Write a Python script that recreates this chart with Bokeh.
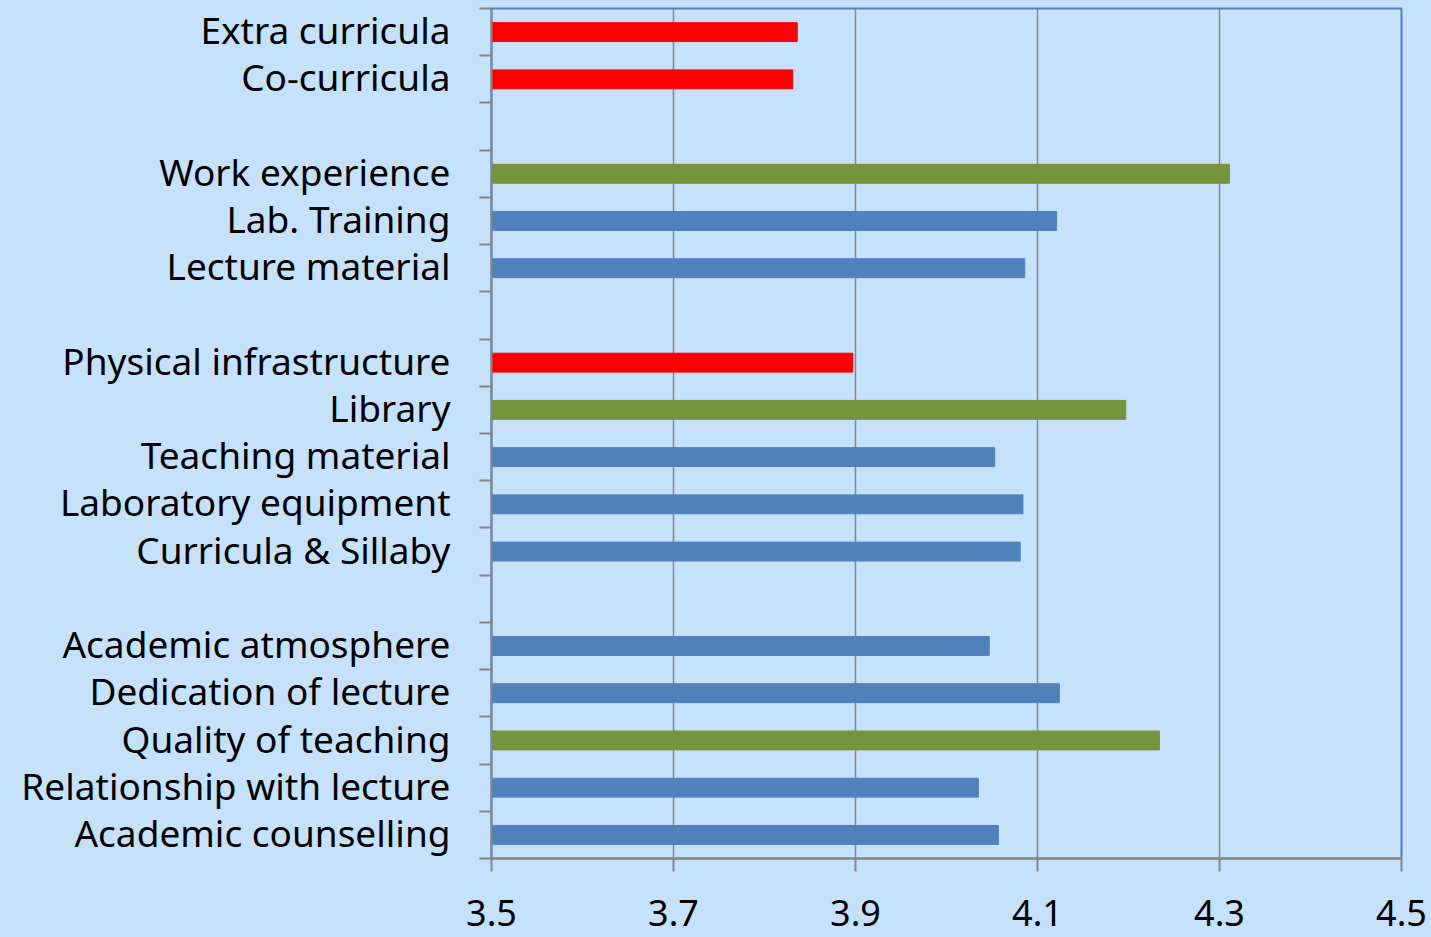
from bokeh.plotting import figure
from bokeh.models import FixedTicker, ColumnDataSource
from bokeh.embed import file_html
from bokeh.resources import INLINE

# Categories from top to bottom; "" marks an empty gap row
categories = [
    "Extra curricula", "Co-curricula", "",
    "Work experience", "Lab. Training", "Lecture material", "",
    "Physical infrastructure", "Library", "Teaching material",
    "Laboratory equipment", "Curricula & Sillaby", "",
    "Academic atmosphere", "Dedication of lecture", "Quality of teaching",
    "Relationship with lecture", "Academic counselling",
]
values = [
    3.836, 3.831, None,
    4.311, 4.121, 4.086, None,
    3.897, 4.197, 4.053, 4.084, 4.081, None,
    4.047, 4.124, 4.234, 4.035, 4.057,
]
bar_colors = [
    "red", "red", None,
    "green", "blue", "blue", None,
    "red", "green", "blue", "blue", "blue", None,
    "blue", "blue", "green", "blue", "blue",
]
x_ticks = [3.5, 3.7, 3.9, 4.1, 4.3, 4.5]

palette = {"red": "#FF0000", "green": "#77933C", "blue": "#4F81BD"}
BG = "#C6E1FC"
LABEL_NUDGE = 0.05  # small upward nudge of label anchors for font metrics

n = len(categories)
ys, xs, cs = [], [], []
label_overrides = {}
for i, (cat, v, c) in enumerate(zip(categories, values, bar_colors)):
    yc = n - i - 0.5
    if cat:
        label_overrides[round(yc + LABEL_NUDGE, 3)] = cat
    if v is not None:
        ys.append(yc)
        xs.append(v)
        cs.append(palette[c])

src = ColumnDataSource(dict(y=ys, right=xs, color=cs))

p = figure(width=1431, height=937, x_range=(3.5, 4.5), y_range=(0, n),
           output_backend="svg", toolbar_location=None,
           min_border_left=491, min_border_right=30, min_border_top=8, min_border_bottom=79)

p.background_fill_color = BG
p.border_fill_color = BG
p.outline_line_color = "#4F81BD"
p.outline_line_width = 2

p.hbar(y="y", left=3.5, right="right", height=0.4, color="color", source=src)

# x axis
p.xaxis.ticker = FixedTicker(ticks=x_ticks)
p.xaxis.major_label_overrides = {t: f"{t:.1f}" for t in x_ticks}
p.xaxis.axis_line_color = "#868686"
p.xaxis.axis_line_width = 2
p.xaxis.major_tick_line_color = "#868686"
p.xaxis.major_tick_line_width = 2
p.xaxis.major_tick_out = 13
p.xaxis.major_tick_in = 0
p.xaxis.minor_tick_line_color = None
p.xaxis.major_label_text_font = "Noto Sans"
p.xaxis.major_label_text_font_size = "36px"
p.xaxis.major_label_text_color = "black"
p.xaxis.major_label_standoff = 28

# y axis: labels at centers, tick marks at boundaries
centers = sorted(label_overrides.keys())
p.yaxis.ticker = FixedTicker(ticks=centers, minor_ticks=list(range(0, n + 1)))
p.yaxis.major_label_overrides = label_overrides
p.yaxis.axis_line_color = "#868686"
p.yaxis.axis_line_width = 2
p.yaxis.major_tick_line_color = None
p.yaxis.major_tick_out = 0
p.yaxis.major_tick_in = 0
p.yaxis.minor_tick_line_color = "#868686"
p.yaxis.minor_tick_line_width = 2
p.yaxis.minor_tick_out = 12
p.yaxis.minor_tick_in = 0
p.yaxis.major_label_text_font = "Noto Sans"
p.yaxis.major_label_text_font_size = "37px"
p.yaxis.major_label_text_color = "black"
p.yaxis.major_label_standoff = 29

p.xgrid.ticker = FixedTicker(ticks=x_ticks)
p.xgrid.grid_line_color = "#878787"
p.xgrid.grid_line_width = 1.5
p.ygrid.grid_line_color = None

html = file_html(p, INLINE)
html = html.replace("<head>", "<head><style>html, body {background: %s; margin: 0; padding: 0; overflow: hidden;}</style>" % BG, 1)
open("out.html", "w").write(html)
